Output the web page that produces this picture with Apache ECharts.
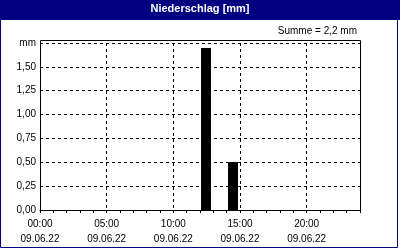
<!DOCTYPE html>
<html>
<head>
<meta charset="utf-8">
<script src="https://cdn.jsdelivr.net/npm/echarts@6/dist/echarts.min.js"></script>
<style>html,body{margin:0;padding:0;background:#fff}#c{width:400px;height:250px}</style>
</head>
<body>
<div id="c"></div>
<script>
// Data (hourly precipitation in mm, 09.06.22)
const hours = [0,1,2,3,4,5,6,7,8,9,10,11,12,13,14,15,16,17,18,19,20,21,22,23];
const precipitation = [0,0,0,0,0,0,0,0,0,0,0,0,1.7,0,0.5,0,0,0,0,0,0,0,0,0];
const dateLabel = '09.06.22';
const xTickHours = [0,5,10,15,20];
const yTicks = [0,0.25,0.5,0.75,1.0,1.25,1.5,1.75];
const titleText = 'Niederschlag [mm]';
const unit = 'mm';

const total = precipitation.reduce((a, b) => a + b, 0);
const sumText = 'Summe = ' + total.toFixed(1).replace('.', ',') + ' ' + unit;

const FONT = '"Liberation Sans", Arial, sans-serif';
const chart = echarts.init(document.getElementById('c'), null, {renderer: 'canvas'});
const pad = n => (n < 10 ? '0' : '') + n;

chart.setOption({
  animation: false,
  backgroundColor: '#fff',
  textStyle: {fontFamily: FONT},
  grid: {left: 40, right: 40, top: 43, bottom: 40},
  xAxis: [{
    type: 'value', min: 0, max: 24, interval: 5,
    axisLine: {show: true, lineStyle: {color: '#000', width: 1}},
    axisTick: {show: false},
    splitLine: {show: true, lineStyle: {color: '#000', type: [3, 3], width: 1}},
    axisLabel: {
      color: '#000', fontSize: 10, fontFamily: FONT, lineHeight: 15, margin: 7,
      formatter: v => xTickHours.indexOf(v) >= 0 ? pad(v) + ':00\n' + dateLabel : ''
    }
  }, {
    type: 'value', min: 0, max: 24, interval: 1, position: 'bottom',
    axisLine: {show: false},
    axisTick: {show: true, length: 3, lineStyle: {color: '#000'}},
    splitLine: {show: false},
    axisLabel: {show: false}
  }],
  yAxis: {
    type: 'value', min: 0, max: 1.75, interval: 0.25,
    axisLine: {show: true, lineStyle: {color: '#000', width: 1}},
    axisTick: {show: false},
    splitLine: {show: true, lineStyle: {color: '#000', type: [3, 3], width: 1}},
    axisLabel: {
      color: '#000', fontSize: 10, fontFamily: FONT, margin: 4,
      formatter: v => Math.abs(v - yTicks[yTicks.length - 1]) < 1e-9 ? unit : v.toFixed(2).replace('.', ',')
    }
  },
  graphic: [
    {type: 'rect', silent: true, z: -1, shape: {x: 0, y: 0, width: 400, height: 20}, style: {fill: '#000080'}},
    {type: 'rect', silent: true, z: 10, shape: {x: 0.5, y: 0.5, width: 397, height: 247}, style: {fill: null, stroke: '#000080', lineWidth: 1}},
    {type: 'rect', silent: true, z: 10, shape: {x: 40.5, y: 40.5, width: 320, height: 170}, style: {fill: null, stroke: '#000', lineWidth: 1}},
    {type: 'text', silent: true, z: 11, x: 200, y: 9, style: {text: titleText, fill: '#fff', font: 'bold 11px ' + FONT, align: 'center', verticalAlign: 'middle'}},
    {type: 'text', silent: true, z: 11, x: 357, y: 31, style: {text: sumText, fill: '#000', font: '10px ' + FONT, align: 'right', verticalAlign: 'middle'}}
  ],
  series: [{
    type: 'custom',
    xAxisIndex: 0,
    data: hours.map((h, i) => [h, precipitation[i]]),
    renderItem: (params, api) => {
      const h = api.value(0), v = api.value(1);
      if (!v) return null;
      const p0 = api.coord([h, 0]);
      const p1 = api.coord([h + 1, v]);
      const w = p1[0] - p0[0];
      const x = Math.round(p0[0] + w * 0.1);
      const bw = Math.round(w * 0.75);
      return {type: 'rect', shape: {x: x, y: Math.round(p1[1]), width: bw, height: Math.round(p0[1]) - Math.round(p1[1])}, style: {fill: '#000'}};
    }
  }]
});
</script>
</body>
</html>
